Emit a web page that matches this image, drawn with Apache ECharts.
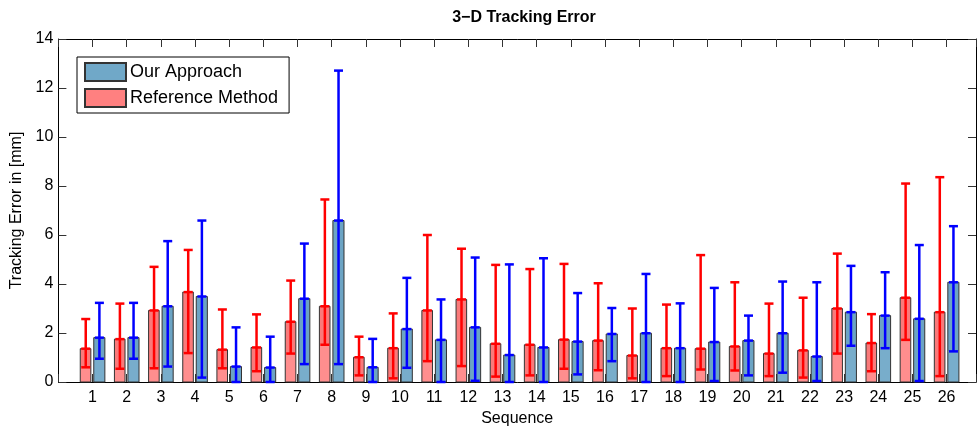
<!DOCTYPE html>
<html lang="en">
<head>
  <meta charset="UTF-8">
  <title>3-D Tracking Error</title>
  <script src="https://cdn.jsdelivr.net/npm/echarts@6/dist/echarts.min.js"></script>
  <style>
    html, body { margin: 0; padding: 0; background: #fff; }
  </style>
</head>
<body>
<div id="box" style="width: 979px;height: 432px;"></div>
<script>
  // data
  var sequences = ['1','2','3','4','5','6','7','8','9','10','11','12','13','14','15','16','17','18','19','20','21','22','23','24','25','26'];
  var refMean = [1.36,1.75,2.92,3.67,1.32,1.41,2.46,3.09,1.01,1.38,2.92,3.37,1.56,1.52,1.73,1.69,1.08,1.38,1.36,1.45,1.16,1.29,3.00,1.59,3.44,2.85];
  var refLow  = [0.60,0.54,0.56,1.18,0.56,0.44,1.16,1.52,0.27,0.15,0.85,0.65,0.22,0.27,0.54,0.48,0.15,0.24,0.51,0.47,0.24,0.18,1.16,0.44,1.72,0.24];
  var refHigh = [2.57,3.20,4.70,5.39,2.96,2.76,4.14,7.45,1.85,2.80,6.00,5.44,4.78,4.61,4.82,4.03,3.00,3.16,5.18,4.07,3.20,3.44,5.24,2.77,8.10,8.36];
  var ourMean = [1.81,1.81,3.09,3.49,0.63,0.59,3.40,6.59,0.60,2.16,1.72,2.23,1.10,1.41,1.65,1.96,1.99,1.38,1.63,1.69,1.99,1.04,2.85,2.71,2.58,4.07];
  var ourLow  = [0.95,0.95,0.63,0.18,0,0,0.73,0.73,0,0.58,0,0.05,0,0,0.31,0.85,0,0,0.04,0.27,0.38,0.04,1.48,1.38,0.04,1.25];
  var ourHigh = [3.23,3.23,5.75,6.59,2.23,1.85,5.65,12.71,1.76,4.25,3.37,5.08,4.80,5.05,3.63,3.02,4.41,3.21,3.84,2.71,4.10,4.07,4.74,4.48,5.59,6.36];

  var font = 'Liberation Sans, Arial, sans-serif';

  function rows(mean, low, high) {
    return sequences.map(function (s, i) { return [i + 1, mean[i], low[i], high[i]]; });
  }

  // bar from left..right (in category units), error bar at errX
  function makeRender(left, right, errX, fillTop, fillLow, errColor) {
    return function (params, api) {
      var x = api.value(0), m = api.value(1), lo = api.value(2), hi = api.value(3);
      var p0 = api.coord([x + left, 0]);
      var p1 = api.coord([x + right, m]);
      var pl = api.coord([x + left, lo]);
      var e = api.coord([x + errX, hi]);
      var eLo = api.coord([x + errX, lo]);
      var eM = api.coord([x + errX, m]);
      var cap = 4.5;
      var lineSt = { stroke: errColor, lineWidth: 2.5 };
      return {
        type: 'group',
        children: [
          { type: 'rect', shape: { x: p0[0], y: pl[1], width: p1[0] - p0[0], height: p0[1] - pl[1] }, style: { fill: fillLow } },
          { type: 'rect', shape: { x: p0[0], y: p1[1], width: p1[0] - p0[0], height: pl[1] - p1[1] }, style: { fill: fillTop } },
          { type: 'rect', shape: { x: p0[0], y: p1[1], width: p1[0] - p0[0], height: p0[1] - p1[1] }, style: { fill: null, stroke: '#333', lineWidth: 1 } },
          { type: 'line', shape: { x1: e[0], y1: e[1], x2: eLo[0], y2: eLo[1] }, style: lineSt },
          { type: 'line', shape: { x1: e[0] - cap, y1: e[1], x2: e[0] + cap, y2: e[1] }, style: lineSt },
          { type: 'line', shape: { x1: eM[0] - cap, y1: eM[1], x2: eM[0] + cap, y2: eM[1] }, style: lineSt },
          { type: 'line', shape: { x1: eLo[0] - cap, y1: eLo[1], x2: eLo[0] + cap, y2: eLo[1] }, style: lineSt }
        ]
      };
    };
  }

  var myChart = echarts.init(document.getElementById('box'));

  var tickStyle = { show: true, inside: true, length: 8, lineStyle: { color: '#333', width: 1 } };
  var lineStyle = { show: true, onZero: false, lineStyle: { color: '#000', width: 1 } };

  var option = {
    animation: false,
    backgroundColor: '#fff',
    graphic: [{
      type: 'text', x: 524, y: 18,
      style: { text: '3\u2212D Tracking Error', font: 'bold 16px ' + font, textAlign: 'center', textVerticalAlign: 'middle', fill: '#000' }
    }],
    legend: {
      orient: 'vertical', left: 77, top: 57,
      data: ['Our Approach', 'Reference Method'],
      icon: 'rect', itemWidth: 41, itemHeight: 18, itemGap: 6,
      padding: [5, 11, 5, 7],
      borderColor: '#000', borderWidth: 1, backgroundColor: '#fff', borderRadius: 0,
      textStyle: { fontFamily: font, fontSize: 18, color: '#000', padding: [0, 0, 0, -1] },
      selectedMode: false
    },
    grid: { left: 58.4, top: 39, width: 922, height: 347 },
    xAxis: [{
      type: 'value', position: 'bottom', min: 0, max: 26.86, interval: 1,
      axisLine: lineStyle, axisTick: tickStyle, splitLine: { show: false },
      axisLabel: {
        fontFamily: font, fontSize: 16, color: '#000', margin: 8,
        formatter: function (v) { return (v >= 1 && v <= 26 && v % 1 === 0) ? sequences[v - 1] : ''; }
      },
      name: 'Sequence', nameLocation: 'middle', nameGap: 29,
      nameTextStyle: { fontFamily: font, fontSize: 16, color: '#000' }
    }, {
      type: 'value', position: 'top', min: 0, max: 26.86, interval: 1,
      axisLine: lineStyle, axisTick: tickStyle, splitLine: { show: false }, axisLabel: { show: false }
    }],
    yAxis: [{
      type: 'value', position: 'left', min: 0, max: 14, interval: 2,
      axisLine: lineStyle, axisTick: tickStyle, splitLine: { show: false },
      axisLabel: { fontFamily: font, fontSize: 16, color: '#000', margin: 5 },
      name: 'Tracking Error in [mm]', nameLocation: 'middle', nameGap: 30,
      nameTextStyle: { fontFamily: font, fontSize: 16, color: '#000' }
    }, {
      type: 'value', position: 'right', min: 0, max: 14, interval: 2,
      axisLine: lineStyle, axisTick: tickStyle, splitLine: { show: false }, axisLabel: { show: false }
    }],
    series: [{
      name: 'Reference Method', type: 'custom',
      itemStyle: { color: '#FF8080', borderColor: '#333', borderWidth: 1 },
      renderItem: makeRender(-0.36, -0.05, -0.2, '#FA7A7A', '#FF8E8E', '#FF0000'),
      data: rows(refMean, refLow, refHigh)
    }, {
      name: 'Our Approach', type: 'custom',
      itemStyle: { color: '#70A8C8', borderColor: '#333', borderWidth: 1 },
      renderItem: makeRender(0.035, 0.36, 0.2, '#6CA4C4', '#78ADCB', '#0000FF'),
      data: rows(ourMean, ourLow, ourHigh)
    }]
  };
  myChart.setOption(option);
</script>
</body>
</html>
